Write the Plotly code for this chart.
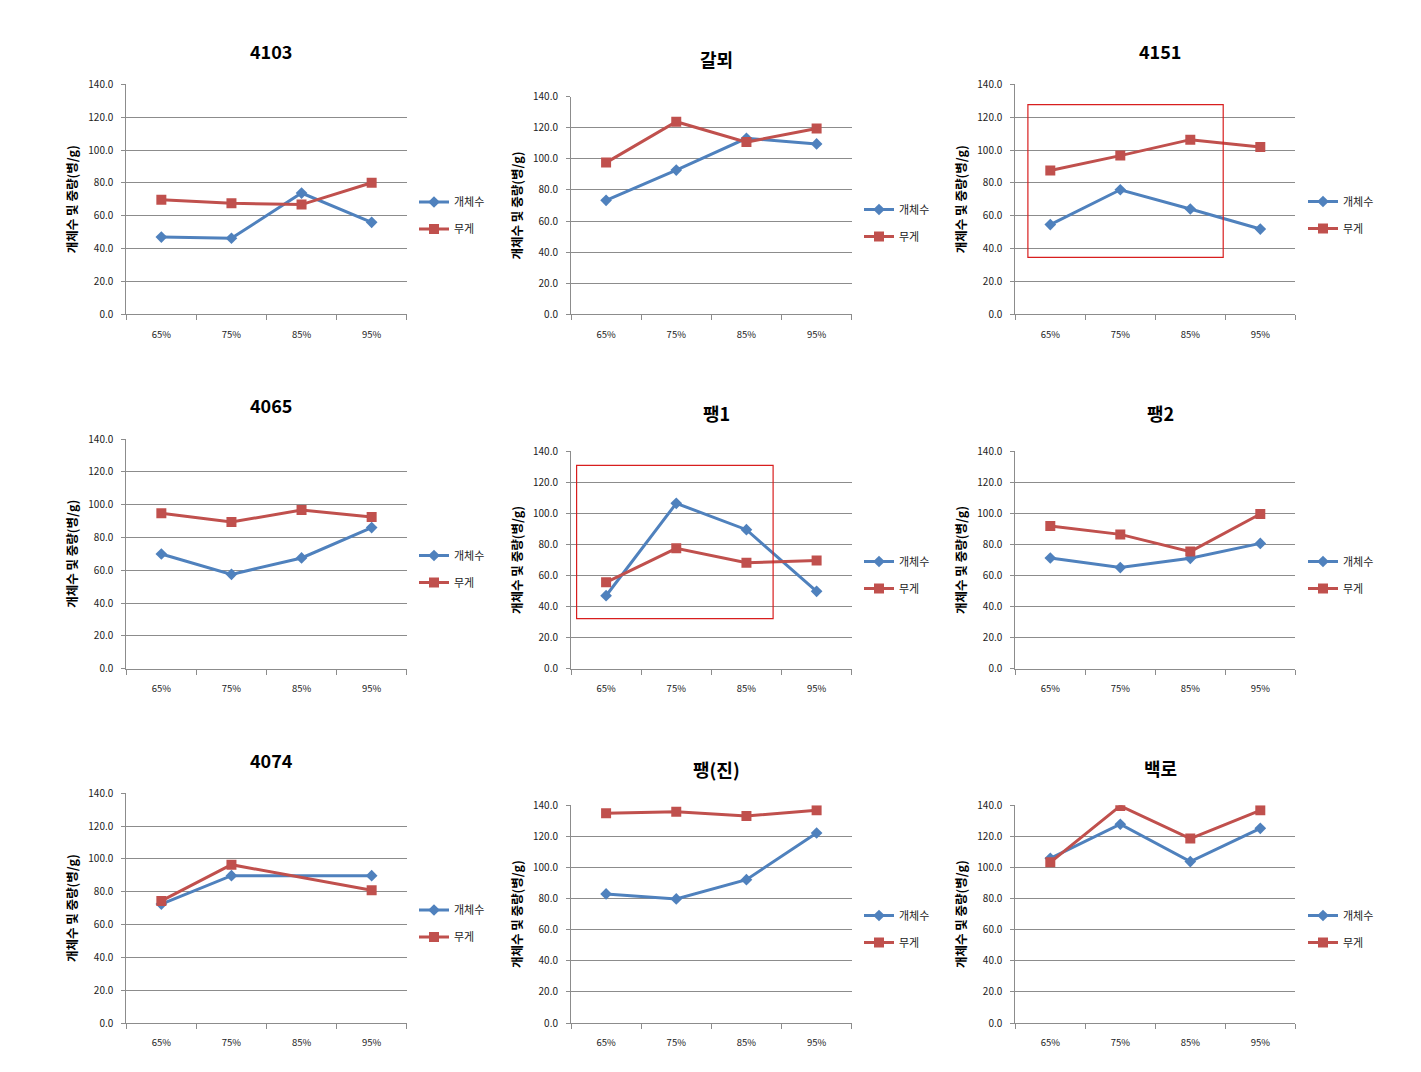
import plotly.graph_objects as go

categories = ["65%", "75%", "85%", "95%"]
titles = ["4103", "갈뫼", "4151", "4065", "팽1", "팽2", "4074", "팽(진)", "백로"]
series_names = ["개체수", "무게"]
y_title = "개체수 및 중량(병/g)"
y_ticks = [0, 20, 40, 60, 80, 100, 120, 140]

count_4103 = [47.0, 46.3, 73.8, 56.0]
weight_4103 = [69.8, 67.6, 66.8, 80.1]
count_galmoe = [73.3, 92.8, 113.2, 109.6]
weight_galmoe = [97.6, 123.9, 110.8, 119.6]
count_4151 = [54.6, 75.8, 64.1, 51.9]
weight_4151 = [87.5, 96.6, 106.3, 101.9]
count_4065 = [69.9, 57.5, 67.5, 86.0]
weight_4065 = [94.7, 89.4, 96.7, 92.5]
count_paeng1 = [47.0, 106.5, 89.5, 49.8]
weight_paeng1 = [55.6, 77.5, 68.3, 69.6]
count_paeng2 = [71.3, 65.1, 71.1, 80.7]
weight_paeng2 = [91.9, 86.5, 75.4, 99.6]
count_4074 = [72.5, 89.8, None, 89.8]
weight_4074 = [74.4, 96.5, None, 80.9]
count_paengjin = [83.0, 79.8, 92.2, 122.2]
weight_paengjin = [134.9, 135.8, 133.1, 136.8]
count_baekro = [105.9, 127.8, 103.8, 125.2]
weight_baekro = [103.3, 139.6, 118.6, 136.8]

counts = [count_4103, count_galmoe, count_4151, count_4065, count_paeng1,
          count_paeng2, count_4074, count_paengjin, count_baekro]
weights = [weight_4103, weight_galmoe, weight_4151, weight_4065, weight_paeng1,
           weight_paeng2, weight_4074, weight_paengjin, weight_baekro]

# highlight boxes (panel index, x0, x1, y0, y1) in axis units
highlights = [(2, -0.32, 2.47, 34.7, 127.6), (4, -0.42, 2.38, 32.2, 131.0)]

W, H = 1421, 1072
OFF = 8  # page body margin
BLUE = "#4F81BD"
RED = "#C0504D"
GRID = "#8C8C8C"
FONT = "Noto Sans CJK KR"

col_left = [126.3, 571.0, 1015.3]
col_right = [406.7, 851.7, 1295.3]
col_title_x = [271, 716.7, 1160.3]
col_legend_x = [414, 859, 1303]
# per panel: top, bottom, title_y, legend_center_y
rows = [
    (84.3, 314.3, 50.7, 215.5), (96.7, 314.3, 59.3, 223.0), (84.3, 314.3, 50.7, 215.0),
    (439.0, 668.7, 405.0, 569.0), (451.3, 668.7, 413.3, 575.0), (451.3, 668.7, 413.3, 575.0),
    (793.3, 1023.0, 760.0, 923.5), (805.3, 1023.0, 769.3, 929.0), (805.3, 1023.0, 768.3, 929.0),
]


def fx(x):
    return (x - OFF) / W


def fy(y):
    return 1 - (y - OFF) / H


fig = go.Figure()
layout = dict(
    width=W, height=H,
    margin=dict(l=0, r=0, t=0, b=0, autoexpand=False),
    paper_bgcolor="white", plot_bgcolor="white",
    font=dict(family=FONT, size=9, color="#222222"),
    showlegend=True,
)
annotations = []
shapes = []

for i in range(9):
    c = i % 3
    top, bottom, ty, ly = rows[i]
    n = "" if i == 0 else str(i + 1)
    xa, ya = "x" + n, "y" + n
    lg = "legend" + n
    fig.add_trace(go.Scatter(
        x=categories, y=counts[i], name=series_names[0], xaxis=xa, yaxis=ya,
        mode="lines+markers", connectgaps=True,
        line=dict(color=BLUE, width=3),
        marker=dict(symbol="diamond", size=9, color=BLUE),
        legend=lg, legendgroup="c" + str(i),
    ))
    fig.add_trace(go.Scatter(
        x=categories, y=weights[i], name=series_names[1], xaxis=xa, yaxis=ya,
        mode="lines+markers", connectgaps=True,
        line=dict(color=RED, width=3),
        marker=dict(symbol="square", size=10, color=RED),
        legend=lg, legendgroup="w" + str(i),
    ))
    layout["xaxis" + n] = dict(
        domain=[fx(col_left[c]), fx(col_right[c])], anchor=ya,
        type="category", categoryorder="array", categoryarray=categories,
        range=[-0.5, 3.5], showgrid=False, showline=True, linecolor=GRID,
        linewidth=1, ticks="outside", tickson="boundaries", ticklen=5,
        tickcolor=GRID, tickfont=dict(size=9.5, color="#222222"), fixedrange=True,
        zeroline=False, ticklabelstandoff=11, automargin=False,
    )
    layout["yaxis" + n] = dict(
        domain=[fy(bottom), fy(top)], anchor=xa,
        range=[0, 140], tickvals=y_ticks, tickformat=".1f",
        showgrid=True, gridcolor=GRID, gridwidth=1, showline=True,
        linecolor=GRID, linewidth=1, ticks="outside", ticklen=4, tickcolor=GRID,
        tickfont=dict(size=10, color="#222222"), zeroline=False,
        ticklabelstandoff=6, automargin=False,
        title=dict(text="<b>" + y_title + "</b>", font=dict(size=12.5, color="#000000"),
                   standoff=7),
        fixedrange=True,
    )
    layout[lg] = dict(
        x=fx(col_legend_x[c]), y=fy(ly), xanchor="left", yanchor="middle",
        xref="paper", yref="paper", bgcolor="rgba(0,0,0,0)",
        font=dict(size=11, color="#222222", family=FONT),
        traceorder="grouped", tracegroupgap=8, itemwidth=30,
    )
    annotations.append(dict(
        text="<b>" + titles[i] + "</b>", x=fx(col_title_x[c]), y=fy(ty),
        xref="paper", yref="paper", xanchor="center", yanchor="middle",
        showarrow=False, font=dict(size=18, color="#000000", family=FONT),
    ))

for (pi, x0, x1, y0, y1) in highlights:
    n = "" if pi == 0 else str(pi + 1)
    shapes.append(dict(
        type="rect", xref="x" + n, yref="y" + n, x0=x0, x1=x1, y0=y0, y1=y1,
        line=dict(color="#D81E1E", width=1.2), fillcolor="rgba(0,0,0,0)", layer="above",
    ))

layout["annotations"] = annotations
layout["shapes"] = shapes
fig.update_layout(**layout)
fig.write_html("out.html")
